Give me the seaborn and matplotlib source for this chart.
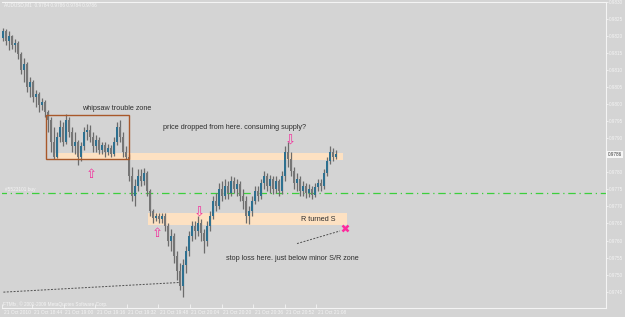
import numpy as np
import pandas as pd
import matplotlib
matplotlib.use("Agg")
import matplotlib.pyplot as plt
import matplotlib.transforms as mtransforms
from matplotlib.patches import Rectangle
import seaborn as sns

# ---------------- data (AUDUSD, M1) ----------------
opens = [0.98195, 0.98216, 0.98186, 0.98201, 0.98175, 0.98181, 0.98146, 0.98099, 0.98117, 0.98050,
         0.98064, 0.98021, 0.98030, 0.97998, 0.98006, 0.97977, 0.97954, 0.97890, 0.97846, 0.97905,
         0.97934, 0.97890, 0.97954, 0.97919, 0.97876, 0.97890, 0.97846, 0.97876, 0.97919, 0.97925,
         0.97905, 0.97876, 0.97896, 0.97867, 0.97881, 0.97861, 0.97873, 0.97855, 0.97890, 0.97934,
         0.97905, 0.97861, 0.97846, 0.97788, 0.97730, 0.97759, 0.97788, 0.97774, 0.97797, 0.97745,
         0.97687, 0.97666, 0.97672, 0.97663, 0.97672, 0.97643, 0.97599, 0.97614, 0.97556, 0.97512,
         0.97468, 0.97527, 0.97570, 0.97614, 0.97643, 0.97628, 0.97652, 0.97623, 0.97599, 0.97643,
         0.97672, 0.97716, 0.97701, 0.97750, 0.97730, 0.97759, 0.97739, 0.97774, 0.97750, 0.97765,
         0.97730, 0.97716, 0.97672, 0.97687, 0.97716, 0.97745, 0.97730, 0.97768, 0.97788, 0.97759,
         0.97780, 0.97750, 0.97774, 0.97745, 0.97788, 0.97861, 0.97838, 0.97803, 0.97768, 0.97780,
         0.97745, 0.97759, 0.97739, 0.97750, 0.97733, 0.97756, 0.97768, 0.97759, 0.97797, 0.97832,
         0.97861, 0.97846]
highs = [0.98224, 0.98221, 0.98216, 0.98204, 0.98192, 0.98186, 0.98152, 0.98137, 0.98123, 0.98079,
         0.98070, 0.98041, 0.98035, 0.98018, 0.98012, 0.97983, 0.97963, 0.97934, 0.97919, 0.97954,
         0.97948, 0.97971, 0.97963, 0.97934, 0.97919, 0.97896, 0.97890, 0.97934, 0.97942, 0.97939,
         0.97919, 0.97910, 0.97905, 0.97890, 0.97890, 0.97884, 0.97881, 0.97905, 0.97948, 0.97954,
         0.97919, 0.97876, 0.97855, 0.97817, 0.97780, 0.97809, 0.97809, 0.97812, 0.97803, 0.97750,
         0.97692, 0.97681, 0.97681, 0.97681, 0.97681, 0.97652, 0.97634, 0.97623, 0.97570, 0.97535,
         0.97547, 0.97585, 0.97628, 0.97657, 0.97657, 0.97672, 0.97663, 0.97634, 0.97657, 0.97687,
         0.97730, 0.97739, 0.97768, 0.97774, 0.97780, 0.97774, 0.97788, 0.97785, 0.97780, 0.97774,
         0.97750, 0.97730, 0.97701, 0.97730, 0.97759, 0.97759, 0.97780, 0.97803, 0.97797, 0.97791,
         0.97788, 0.97788, 0.97782, 0.97803, 0.97876, 0.97890, 0.97861, 0.97817, 0.97797, 0.97788,
         0.97774, 0.97768, 0.97765, 0.97759, 0.97768, 0.97780, 0.97780, 0.97809, 0.97846, 0.97876,
         0.97873, 0.97867]
lows = [0.98186, 0.98175, 0.98160, 0.98163, 0.98152, 0.98134, 0.98088, 0.98064, 0.98035, 0.98021,
        0.98006, 0.97992, 0.97977, 0.97983, 0.97963, 0.97919, 0.97861, 0.97838, 0.97841, 0.97890,
        0.97876, 0.97884, 0.97905, 0.97861, 0.97855, 0.97823, 0.97832, 0.97867, 0.97896, 0.97890,
        0.97861, 0.97861, 0.97855, 0.97855, 0.97846, 0.97852, 0.97844, 0.97849, 0.97881, 0.97890,
        0.97846, 0.97838, 0.97774, 0.97716, 0.97701, 0.97745, 0.97759, 0.97762, 0.97730, 0.97672,
        0.97652, 0.97657, 0.97652, 0.97652, 0.97628, 0.97585, 0.97570, 0.97535, 0.97483, 0.97454,
        0.97434, 0.97506, 0.97556, 0.97599, 0.97605, 0.97614, 0.97599, 0.97562, 0.97585, 0.97628,
        0.97663, 0.97687, 0.97692, 0.97716, 0.97721, 0.97721, 0.97730, 0.97739, 0.97730, 0.97716,
        0.97692, 0.97652, 0.97649, 0.97672, 0.97707, 0.97716, 0.97721, 0.97750, 0.97745, 0.97739,
        0.97736, 0.97739, 0.97730, 0.97736, 0.97774, 0.97817, 0.97788, 0.97750, 0.97745, 0.97730,
        0.97730, 0.97724, 0.97727, 0.97721, 0.97727, 0.97745, 0.97745, 0.97750, 0.97788, 0.97826,
        0.97832, 0.97838]
closes = [0.98216, 0.98186, 0.98201, 0.98175, 0.98181, 0.98146, 0.98099, 0.98117, 0.98050, 0.98064,
          0.98021, 0.98030, 0.97998, 0.98006, 0.97977, 0.97954, 0.97890, 0.97846, 0.97905, 0.97934,
          0.97890, 0.97954, 0.97919, 0.97876, 0.97890, 0.97846, 0.97876, 0.97919, 0.97925, 0.97905,
          0.97876, 0.97896, 0.97867, 0.97881, 0.97861, 0.97873, 0.97855, 0.97890, 0.97934, 0.97905,
          0.97861, 0.97846, 0.97788, 0.97730, 0.97759, 0.97788, 0.97774, 0.97797, 0.97745, 0.97687,
          0.97666, 0.97672, 0.97663, 0.97672, 0.97643, 0.97599, 0.97614, 0.97556, 0.97512, 0.97468,
          0.97527, 0.97570, 0.97614, 0.97643, 0.97628, 0.97652, 0.97623, 0.97599, 0.97643, 0.97672,
          0.97716, 0.97701, 0.97750, 0.97730, 0.97759, 0.97739, 0.97774, 0.97750, 0.97765, 0.97730,
          0.97716, 0.97672, 0.97687, 0.97716, 0.97745, 0.97730, 0.97768, 0.97788, 0.97759, 0.97780,
          0.97750, 0.97774, 0.97745, 0.97788, 0.97861, 0.97838, 0.97803, 0.97768, 0.97780, 0.97745,
          0.97759, 0.97739, 0.97750, 0.97733, 0.97756, 0.97768, 0.97759, 0.97797, 0.97832, 0.97861,
          0.97846, 0.97855]

time_tick_pos = [-0.33, 9.67, 20.2, 30.7, 41.2, 51.8, 62.3, 72.9, 83.4, 94.0, 104.5]
time_labels = ["21 Oct 2010", "21 Oct 18:44", "21 Oct 19:00", "21 Oct 19:16", "21 Oct 19:32",
               "21 Oct 19:48", "21 Oct 20:04", "21 Oct 20:20", "21 Oct 20:36", "21 Oct 20:52",
               "21 Oct 21:08"]
price_ticks = [0.9745, 0.9750, 0.9755, 0.9760, 0.9765, 0.9770, 0.9775, 0.9780, 0.9785, 0.9790,
               0.9795, 0.9800, 0.9805, 0.9810, 0.9815, 0.9820, 0.9825, 0.9830]
# the 0.9785 label is hidden behind the bid-price box, as in the terminal
price_labels = ["0.9745", "0.9750", "0.9755", "0.9760", "0.9765", "0.9770", "0.9775", "0.9780",
                "", "0.9790", "0.9795", "0.9800", "0.9805", "0.9810", "0.9815", "0.9820",
                "0.9825", "0.9830"]
order_price = 0.97739
last_price = 0.97855

# ---------------- style ----------------
BG = "#d4d4d4"
FG = "#f4f4f4"
sns.set_theme(style="white", rc={"axes.facecolor": BG, "figure.facecolor": BG})
plt.rcParams["font.family"] = ["Liberation Sans", "DejaVu Sans"]

fig = plt.figure(figsize=(6.25, 3.17), dpi=100)
ax = fig.add_axes([2 / 625, 9 / 317, 604 / 625, 306 / 317])
ax.set_facecolor(BG)

df = pd.DataFrame({"open": opens, "high": highs, "low": lows, "close": closes})
df["i"] = np.arange(len(df))
df["bull"] = df["close"] >= df["open"]
df["body_lo"] = df[["open", "close"]].min(axis=1)
df["body_h"] = (df["close"] - df["open"]).abs().clip(lower=0.00003)

# zones (drawn behind candles)
ax.add_patch(Rectangle((17.3, 0.97835), 96.0, 0.00023, facecolor="#fde1c2", edgecolor="none", zorder=1))
ax.add_patch(Rectangle((48.3, 0.97646), 66.4, 0.00035, facecolor="#fde1c2", edgecolor="none", zorder=1))

# order line
sns.lineplot(x=[-5, 210], y=[order_price, order_price], ax=ax, color="#3ccf3c",
             linewidth=0.9, linestyle=(0, (6, 3, 1, 3)), zorder=2)

# candles
ax.vlines(df["i"], df["low"], df["high"], color="#6c6c6c", linewidth=0.9, zorder=3)
colors = np.where(df["bull"], "#2d7090", "#767676")
ax.bar(df["i"], df["body_h"], bottom=df["body_lo"], width=0.72, color=colors,
       linewidth=0, zorder=4)

# whipsaw box
ax.add_patch(Rectangle((14.33, 0.97838), 27.67, 0.00130, facecolor="none",
                       edgecolor="#a8582a", linewidth=1.0, zorder=5))

# trend / pointer lines
sns.lineplot(x=[-1, 59], y=[0.97448, 0.97477], ax=ax, color="#505050", linewidth=0.7,
             linestyle=(0, (2, 1.5)), zorder=5)
sns.lineplot(x=[98, 112.3], y=[0.97591, 0.97628], ax=ax, color="#505050", linewidth=0.7,
             linestyle=(0, (2, 1.5)), zorder=5)

# stop marker
ax.plot([114], [0.97637], marker="x", markersize=4.5, mew=1.8, color="#ff2a9d", zorder=6)

# arrows
arrow_kw = dict(color="#f2309c", fontsize=9.5, ha="center", va="center",
                family=["DejaVu Sans"], zorder=6)
ax.text(29.3, 0.97794, "\u21e7", **arrow_kw)
ax.text(51.3, 0.97620, "\u21e7", **arrow_kw)
ax.text(65.3, 0.97681, "\u21e9", **arrow_kw)
ax.text(95.7, 0.97893, "\u21e9", **arrow_kw)

# annotations
note_kw = dict(color="#2e2e2e", fontsize=5.2, ha="left", va="center", zorder=6)
ax.text(26.3, 0.97986, "whipsaw trouble zone", **note_kw)
ax.text(53.3, 0.97931, "price dropped from here. consuming supply?", **note_kw)
ax.text(99.3, 0.97663, "R turned S", **note_kw)
ax.text(74.3, 0.97547, "stop loss here. just below minor S/R zone", **note_kw)
ax.text(0.6, 0.97750, "#5523101 buy", color=FG, fontsize=3.4, ha="left", va="center", zorder=6)

# axes limits / ticks
ax.set_xlim(-0.333, 201.0)
ax.set_ylim(0.97402, 0.98291)
ax.yaxis.tick_right()
ax.set_yticks(price_ticks)
ax.set_yticklabels(price_labels)
ax.set_xticks(time_tick_pos)
ax.set_xticklabels(time_labels)
ax.tick_params(axis="y", colors=FG, labelcolor=FG, labelsize=3.3, length=1.5, width=0.6,
               pad=0.8, direction="out", right=True, left=False)
ax.tick_params(axis="x", colors=FG, labelcolor=FG, labelsize=3.5, length=3, width=0.6,
               pad=1.5, direction="in", bottom=True)
for lab in ax.get_xticklabels():
    lab.set_horizontalalignment("left")
    lab.set_transform(lab.get_transform() + mtransforms.ScaledTranslation(1.5 / 100, 0, fig.dpi_scale_trans))
ax.grid(False)
for s in ax.spines.values():
    s.set_visible(True)
    s.set_color(FG)
    s.set_linewidth(0.8)
ax.spines["left"].set_visible(False)
ax.set_xlabel("")
ax.set_ylabel("")

# last price label
trans = mtransforms.blended_transform_factory(ax.transAxes, ax.transData)
ax.text(1.003, last_price - 0.00003, "0.9786", transform=trans, fontsize=3.3, color="#3a3a3a",
        ha="left", va="center", clip_on=False, zorder=7,
        bbox=dict(boxstyle="square,pad=0.25", facecolor="#f6f6f6", edgecolor="none"))

# header / footer text
fig.text(4 / 625, 1 - 5 / 317, "AUDUSD,M1  0.9784 0.9786 0.9784 0.9786", color=FG,
         fontsize=3.4, ha="left", va="center")
fig.text(3 / 625, 1 - 304 / 317, "FTMfx, \u00a9 2001-2009 MetaQuotes Software Corp.", color=FG,
         fontsize=3.4, ha="left", va="center")

fig.savefig("out.png", dpi=100, facecolor=BG)
